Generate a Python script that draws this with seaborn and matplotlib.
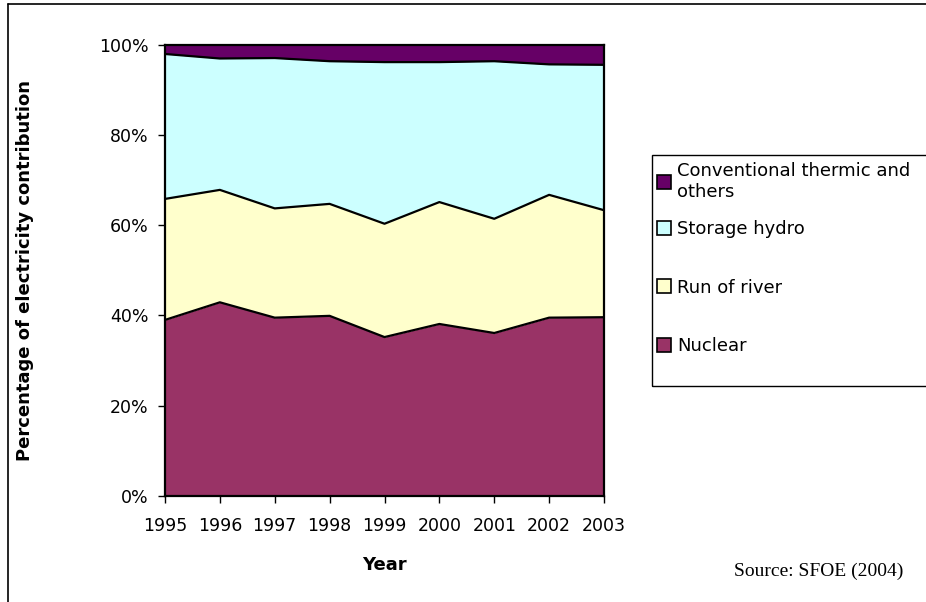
import pandas as pd
import matplotlib.pyplot as plt
import seaborn as sns
from matplotlib.lines import Line2D
from matplotlib.patches import Patch, Rectangle

# Datos (porcentaje de cada fuente por anio)
years = [1995, 1996, 1997, 1998, 1999, 2000, 2001, 2002, 2003]
nuclear = [39.0, 42.9, 39.5, 39.9, 35.2, 38.1, 36.1, 39.5, 39.6]
run_of_river = [26.8, 24.9, 24.2, 24.8, 25.1, 27.0, 25.3, 27.2, 23.7]
storage_hydro = [32.1, 29.1, 33.3, 31.6, 35.8, 31.0, 34.9, 28.9, 32.2]
thermic = [2.1, 3.1, 3.0, 3.7, 3.9, 3.9, 3.7, 4.4, 4.5]

series = ['Nuclear', 'Run of river', 'Storage hydro', 'Conventional thermic and\nothers']
colors = ['#993366', '#FFFFCC', '#CCFFFF', '#660066']
y_ticks = [0, 20, 40, 60, 80, 100]
y_labels = ['0%', '20%', '40%', '60%', '80%', '100%']

data = pd.DataFrame({'Year': years, series[0]: nuclear, series[1]: run_of_river,
                     series[2]: storage_hydro, series[3]: thermic})
cum = data[series].cumsum(axis=1)
cum['Year'] = data['Year']

sns.set_theme(style='white')
plt.rcParams['font.family'] = ['DejaVu Sans']
plt.rcParams['text.color'] = 'black'
plt.rcParams['axes.labelcolor'] = 'black'
plt.rcParams['xtick.color'] = 'black'
plt.rcParams['ytick.color'] = 'black'

fig = plt.figure(figsize=(9.26, 6.02), dpi=100)
ax = fig.add_axes([165 / 926, 1 - 496 / 602, 439 / 926, 451.5 / 602])

# Areas apiladas
lower = [0] * len(years)
for s, c in zip(series, colors):
    ax.fill_between(cum['Year'], lower, cum[s], color=c, linewidth=0)
    lower = cum[s]

# Bordes negros de cada capa
for s in series[:-1]:
    sns.lineplot(x='Year', y=s, data=cum, ax=ax, color='black', linewidth=1.6)

ax.set_xlim(years[0], years[-1])
ax.set_ylim(0, 100)
ax.set_xticks(years)
ax.set_xticklabels([str(y) for y in years], fontsize=12.5)
ax.set_yticks(y_ticks)
ax.set_yticklabels(y_labels, fontsize=12.5)
ax.tick_params(axis='both', direction='out', length=5, width=1, color='black',
               left=True, bottom=True)
ax.tick_params(axis='x', pad=10)
ax.tick_params(axis='y', pad=7)
for sp in ax.spines.values():
    sp.set_color('black')
    sp.set_linewidth(1.6)

ax.set_xlabel('Year', fontsize=13, fontweight='bold')
ax.set_ylabel('Percentage of electricity contribution', fontsize=13, fontweight='bold')
ax.xaxis.set_label_coords(0.5, -0.133)
ax.yaxis.set_label_coords(-0.298, 0.5)

# Leyenda (orden inverso, como en Excel), en dos bloques dentro de un marco
handles = [Patch(facecolor=c, edgecolor='black', linewidth=1.2) for c in colors]
leg_opts = dict(loc='upper left', fontsize=13, frameon=False, borderaxespad=0,
                borderpad=0, handlelength=0.8, handleheight=0.8, handletextpad=0.3)
fig.legend(handles[3:], series[3:], bbox_to_anchor=(657 / 926, 1 - 162 / 602), **leg_opts)
fig.legend(handles[2::-1], series[2::-1], bbox_to_anchor=(657 / 926, 1 - 220 / 602),
           labelspacing=2.25, **leg_opts)
fig.add_artist(Rectangle((652 / 926, 1 - 386 / 602), 0.4, 231 / 602, transform=fig.transFigure,
                         fill=False, edgecolor='black', linewidth=1))

fig.text(903 / 926, 1 - 571 / 602, 'Source: SFOE (2004)', ha='right', va='center',
         fontsize=14, family=['Liberation Serif', 'DejaVu Serif'])

# Marco exterior (solo arriba e izquierda visibles)
fig.add_artist(Line2D([8 / 926, 1], [1 - 4 / 602, 1 - 4 / 602], transform=fig.transFigure,
                      color='black', linewidth=1.2))
fig.add_artist(Line2D([8 / 926, 8 / 926], [0, 1 - 4 / 602], transform=fig.transFigure,
                      color='black', linewidth=1.2))

fig.savefig('out.png', dpi=100)
